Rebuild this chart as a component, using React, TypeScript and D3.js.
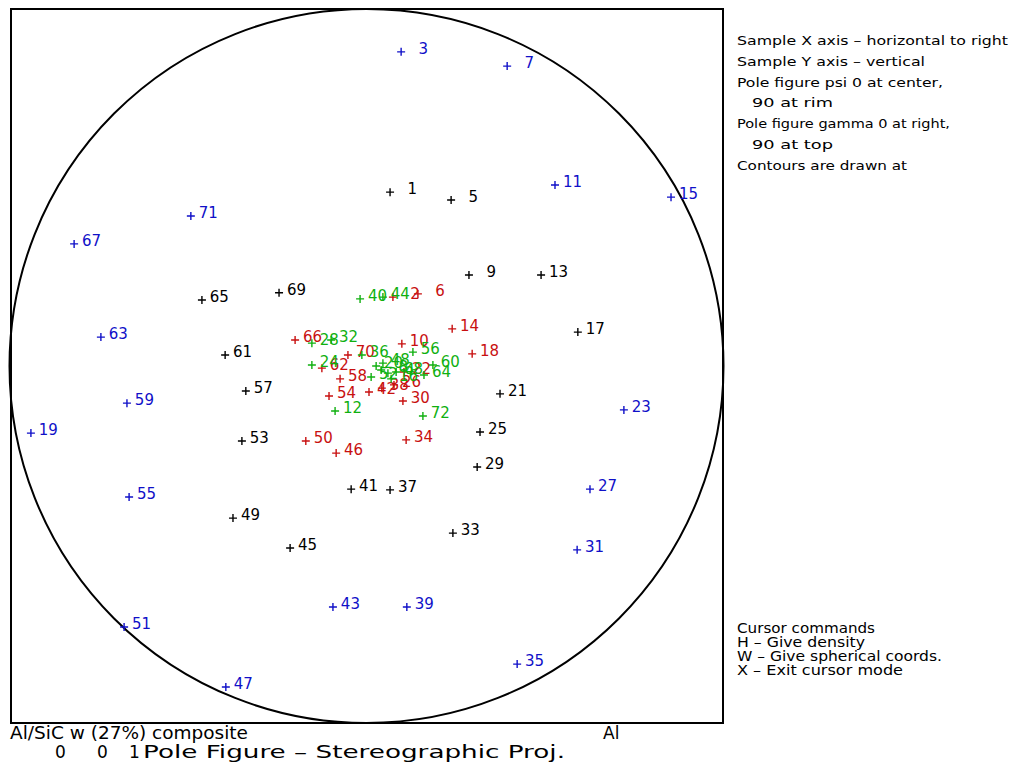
import React from "react";
import * as d3 from "d3";

// Pole positions in projection units (circle radius = 100).
// [pole number, x (right +), y (up +)]
const bluePoles: [number, number, number][] = [
  [3, 9.7, 88.0], [7, 39.4, 84.0], [11, 52.8, 50.7], [15, 85.3, 47.3],
  [19, -94.0, -18.8], [23, 72.1, -12.3], [27, 62.6, -34.5], [31, 59.0, -51.5],
  [35, 42.2, -83.5], [39, 11.3, -67.5], [43, -9.4, -67.5], [47, -39.4, -89.9],
  [51, -67.9, -73.1], [55, -66.5, -36.7], [59, -67.1, -10.4], [63, -74.4, 8.1],
  [67, -81.9, 34.2], [71, -49.2, 42.0],
];
const blackPoles: [number, number, number][] = [
  [1, 6.6, 48.7], [5, 23.7, 46.5], [9, 28.7, 25.5], [13, 48.9, 25.5],
  [17, 59.2, 9.5], [21, 37.4, -7.8], [25, 31.8, -18.5], [29, 31.0, -28.3],
  [33, 24.2, -46.8], [37, 6.6, -34.7], [41, -4.3, -34.5], [45, -21.4, -51.0],
  [49, -37.4, -42.6], [53, -34.9, -21.0], [57, -33.8, -7.0], [61, -39.6, 3.1],
  [65, -46.1, 18.5], [69, -24.5, 20.5],
];
const redPoles: [number, number, number][] = [
  [2, 7.4, 19.3], [6, 14.4, 20.2], [10, 9.9, 6.2], [14, 24.0, 10.4],
  [18, 29.6, 3.4], [22, 10.5, -1.7], [26, 7.7, -5.3], [30, 10.2, -9.8],
  [34, 11.1, -20.7], [38, 4.3, -6.2], [42, 0.7, -7.3], [46, -8.5, -24.4],
  [50, -17.0, -21.0], [54, -10.5, -8.4], [58, -7.4, -3.6], [62, -12.5, -0.6],
  [66, -20.0, 7.3], [70, -5.2, 3.1],
];
const greenPoles: [number, number, number][] = [
  [4, 6.0, -2.0], [8, 4.1, -1.1], [12, -8.8, -12.6], [16, 6.9, -3.6],
  [20, 2.7, 0.0], [24, -15.3, 0.3], [28, -15.3, 6.4], [32, -9.9, 7.3],
  [36, -1.3, 3.1], [40, -1.8, 18.8], [44, 4.6, 19.3], [48, 4.6, 0.8],
  [52, 1.3, -3.1], [56, 13.0, 3.9], [60, 18.6, 0.3], [64, 16.1, -2.5],
  [68, 8.3, -1.7], [72, 15.8, -14.0],
];

const infoLines = [
  "Sample X axis \u2013 horizontal to right",
  "Sample Y axis \u2013 vertical",
  "Pole figure psi 0 at center,",
  "90 at rim",
  "Pole figure gamma 0 at right,",
  "90 at top",
  "Contours are drawn at",
];
const cursorLines = [
  "Cursor commands",
  "H \u2013 Give density",
  "W \u2013 Give spherical coords.",
  "X \u2013 Exit cursor mode",
];
const sampleTitle = "Al/SiC w (27%) composite";
const materialName = "Al";
const hklIndices = ["0", "0", "1"];
const projectionTitle = "Pole Figure \u2013 Stereographic Proj.";

// layout
const W = 1014;
const H = 765;
const CX = 366.5;
const CY = 366;
const R = 357;

const x = d3.scaleLinear().domain([-100, 100]).range([CX - R, CX + R]);
const y = d3.scaleLinear().domain([-100, 100]).range([CY + R, CY - R]);

const series = [
  { name: "blue", color: "#1010c8", data: bluePoles },
  { name: "black", color: "#000000", data: blackPoles },
  { name: "red", color: "#c81010", data: redPoles },
  { name: "green", color: "#10b010", data: greenPoles },
];

const infoX = 737;
const infoBase = 45;
const infoStep = 20.8;
const infoLens = [271, 188, 206, 81, 213, 81, 170];
const infoIndent = [0, 0, 0, 15, 0, 15, 0];

const cursorBase = 633;
const cursorStep = 14;
const cursorLens = [138, 128, 205, 166];

const font = "DejaVu Sans, Verdana, sans-serif";

export default function App() {
  const plus = 4;
  return (
    <div style={{ position: "absolute", left: 0, top: 0, width: W, height: H, background: "#fff" }}>
      <svg width={W} height={H} style={{ display: "block" }}>
        <rect x={0} y={0} width={W} height={H} fill="#fff" />
        <rect x={11} y={9} width={712} height={714} fill="none" stroke="#000" strokeWidth={2} />
        <circle cx={x(0)} cy={y(0)} r={x(100) - x(0)} fill="none" stroke="#000" strokeWidth={2} />
        {series.map((s) => (
          <g key={s.name}>
            {s.data.map(([id, px, py]) => {
              const X = x(px);
              const Y = y(py);
              return (
                <g key={id}>
                  <path
                    d={`M${X - plus},${Y}H${X + plus}M${X},${Y - plus}V${Y + plus}`}
                    stroke={s.color}
                    strokeWidth={1.4}
                    fill="none"
                  />
                  <text
                    x={X + 27}
                    y={Y + 2}
                    textAnchor="end"
                    fill={s.color}
                    fontSize={15}
                    fontFamily={font}
                  >
                    {id}
                  </text>
                </g>
              );
            })}
          </g>
        ))}
        {infoLines.map((t, i) => (
          <text
            key={t}
            x={infoX + infoIndent[i]}
            y={infoBase + i * infoStep}
            fontSize={13}
            fontFamily={font}
            fill="#000"
            textLength={infoLens[i]}
            lengthAdjust="spacingAndGlyphs"
          >
            {t}
          </text>
        ))}
        {cursorLines.map((t, i) => (
          <text
            key={t}
            x={infoX}
            y={cursorBase + i * cursorStep}
            fontSize={14}
            fontFamily={font}
            fill="#000"
            textLength={cursorLens[i]}
            lengthAdjust="spacingAndGlyphs"
          >
            {t}
          </text>
        ))}
        <text x={10} y={739} fontSize={17} fontFamily={font} fill="#000" textLength={238} lengthAdjust="spacingAndGlyphs">
          {sampleTitle}
        </text>
        <text x={603} y={739} fontSize={17} fontFamily={font} fill="#000">
          {materialName}
        </text>
        {hklIndices.map((t, i) => (
          <text key={i} x={[55, 97, 129][i]} y={758} fontSize={17} fontFamily={font} fill="#000">
            {t}
          </text>
        ))}
        <text x={143} y={758} fontSize={17} fontFamily={font} fill="#000" textLength={422} lengthAdjust="spacingAndGlyphs">
          {projectionTitle}
        </text>
      </svg>
    </div>
  );
}
